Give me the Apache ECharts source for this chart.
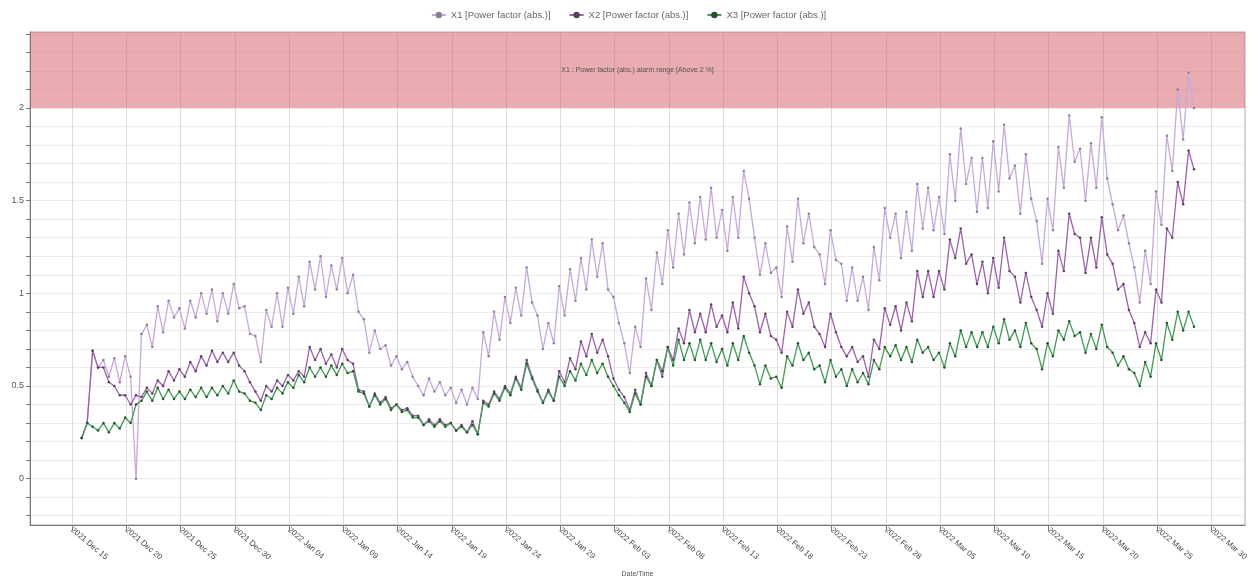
<!DOCTYPE html>
<html>
<head>
<meta charset="utf-8">
<script src="https://cdn.jsdelivr.net/npm/echarts@6/dist/echarts.min.js"></script>
<style>
  html, body { margin: 0; padding: 0; background: #fff; }
  #chart { width: 1257px; height: 583px; }
</style>
</head>
<body>
<div id="chart"></div>
<script>
// time is counted in days from 2021-12-15 00:00
const startDate = Date.UTC(2021, 11, 15)
const months = ['Jan', 'Feb', 'Mar', 'Apr', 'May', 'Jun', 'Jul', 'Aug', 'Sep', 'Oct', 'Nov', 'Dec']

// samples: daily peak / next-morning low, first one at day 0.9, one every half day
const sampleStart = 0.9
const sampleStep = 0.5

const xTickDays = [0, 5, 10, 15, 20, 25, 30, 35, 40, 45, 50, 55, 60, 65, 70, 75, 80, 85, 90, 95, 100, 105]
const yTicks = [-0.2, -0.1, 0, 0.1, 0.2, 0.3, 0.4, 0.5, 0.6, 0.7, 0.8, 0.9, 1, 1.1, 1.2, 1.3, 1.4, 1.5, 1.6, 1.7, 1.8, 1.9, 2, 2.1, 2.2, 2.3, 2.4]
const yLabels = [0, 0.5, 1, 1.5, 2]

const seriesNames = ['X1 [Power factor (abs.)]', 'X2 [Power factor (abs.)]', 'X3 [Power factor (abs.)]']
const alarmText = 'X1 : Power factor (abs.) alarm range [Above 2 %]'
const alarmLimit = 2

const x1 = [
  0.22, 0.30, 0.69, 0.60, 0.64, 0.55, 0.65, 0.52, 0.66, 0.55,
  0.00, 0.78, 0.83, 0.71, 0.93, 0.79, 0.96, 0.87, 0.92, 0.81,
  0.96, 0.87, 1.00, 0.89, 1.02, 0.85, 1.00, 0.89, 1.05, 0.92,
  0.93, 0.78, 0.77, 0.63, 0.91, 0.82, 1.00, 0.82, 1.03, 0.89,
  1.09, 0.93, 1.17, 1.02, 1.20, 0.98, 1.15, 1.02, 1.19, 1.00,
  1.10, 0.90, 0.86, 0.68, 0.80, 0.70, 0.72, 0.61, 0.66, 0.59,
  0.63, 0.55, 0.50, 0.45, 0.54, 0.47, 0.52, 0.45, 0.49, 0.41,
  0.48, 0.40, 0.49, 0.43, 0.79, 0.66, 0.90, 0.75, 0.98, 0.84,
  1.03, 0.88, 1.14, 0.95, 0.88, 0.70, 0.84, 0.73, 1.04, 0.88,
  1.13, 0.96, 1.19, 1.02, 1.29, 1.09, 1.27, 1.02, 0.98, 0.84,
  0.73, 0.57, 0.82, 0.71, 1.08, 0.91, 1.22, 1.05, 1.34, 1.14,
  1.43, 1.21, 1.49, 1.27, 1.52, 1.29, 1.57, 1.30, 1.45, 1.23,
  1.52, 1.30, 1.66, 1.51, 1.30, 1.10, 1.27, 1.11, 1.14, 0.98,
  1.36, 1.17, 1.51, 1.27, 1.43, 1.25, 1.21, 1.05, 1.34, 1.18,
  1.16, 0.96, 1.14, 0.96, 1.09, 0.91, 1.25, 1.07, 1.46, 1.30,
  1.43, 1.19, 1.44, 1.23, 1.59, 1.35, 1.57, 1.34, 1.52, 1.32,
  1.75, 1.50, 1.89, 1.59, 1.73, 1.44, 1.73, 1.46, 1.82, 1.55,
  1.91, 1.62, 1.69, 1.43, 1.75, 1.51, 1.39, 1.16, 1.51, 1.34,
  1.79, 1.57, 1.96, 1.71, 1.78, 1.50, 1.81, 1.57, 1.95, 1.62,
  1.48, 1.34, 1.42, 1.27, 1.14, 0.95, 1.23, 1.05, 1.55, 1.37,
  1.85, 1.66, 2.10, 1.83, 2.19, 2.00
]

const x2 = [
  0.22, 0.30, 0.69, 0.60, 0.60, 0.52, 0.50, 0.45, 0.45, 0.40,
  0.45, 0.44, 0.49, 0.46, 0.53, 0.50, 0.58, 0.53, 0.59, 0.55,
  0.63, 0.58, 0.66, 0.61, 0.69, 0.63, 0.68, 0.63, 0.68, 0.61,
  0.58, 0.52, 0.47, 0.42, 0.50, 0.47, 0.53, 0.50, 0.56, 0.53,
  0.58, 0.55, 0.71, 0.64, 0.70, 0.62, 0.67, 0.60, 0.70, 0.64,
  0.62, 0.48, 0.47, 0.39, 0.46, 0.41, 0.44, 0.38, 0.40, 0.37,
  0.38, 0.34, 0.34, 0.29, 0.32, 0.29, 0.32, 0.29, 0.30, 0.26,
  0.29, 0.25, 0.31, 0.24, 0.42, 0.40, 0.47, 0.43, 0.50, 0.46,
  0.55, 0.49, 0.64, 0.55, 0.48, 0.41, 0.48, 0.42, 0.58, 0.52,
  0.65, 0.59, 0.74, 0.66, 0.78, 0.68, 0.75, 0.66, 0.54, 0.48,
  0.44, 0.37, 0.48, 0.40, 0.57, 0.50, 0.64, 0.55, 0.71, 0.64,
  0.81, 0.73, 0.91, 0.79, 0.89, 0.79, 0.94, 0.82, 0.88, 0.79,
  0.95, 0.81, 1.09, 1.00, 0.93, 0.79, 0.89, 0.77, 0.75, 0.68,
  0.90, 0.82, 1.02, 0.89, 0.95, 0.82, 0.78, 0.71, 0.89, 0.79,
  0.71, 0.66, 0.71, 0.63, 0.66, 0.55, 0.75, 0.70, 0.92, 0.83,
  0.93, 0.80, 0.95, 0.85, 1.12, 0.98, 1.12, 0.98, 1.12, 1.02,
  1.29, 1.19, 1.35, 1.16, 1.21, 1.05, 1.17, 1.00, 1.19, 1.03,
  1.30, 1.12, 1.09, 0.95, 1.11, 0.98, 0.91, 0.82, 1.00, 0.89,
  1.23, 1.12, 1.43, 1.32, 1.30, 1.11, 1.30, 1.14, 1.41, 1.21,
  1.16, 1.02, 1.05, 0.91, 0.84, 0.71, 0.79, 0.73, 1.02, 0.95,
  1.35, 1.30, 1.60, 1.48, 1.77, 1.67
]

const x3 = [
  0.22, 0.30, 0.28, 0.26, 0.30, 0.25, 0.30, 0.27, 0.33, 0.30,
  0.40, 0.42, 0.47, 0.42, 0.49, 0.43, 0.48, 0.43, 0.47, 0.43,
  0.48, 0.44, 0.49, 0.44, 0.49, 0.45, 0.50, 0.46, 0.53, 0.47,
  0.46, 0.42, 0.41, 0.37, 0.45, 0.43, 0.49, 0.46, 0.52, 0.49,
  0.56, 0.52, 0.60, 0.55, 0.60, 0.55, 0.61, 0.56, 0.62, 0.57,
  0.58, 0.47, 0.46, 0.39, 0.45, 0.40, 0.43, 0.37, 0.40, 0.36,
  0.37, 0.33, 0.33, 0.29, 0.31, 0.28, 0.31, 0.28, 0.30, 0.26,
  0.28, 0.25, 0.29, 0.24, 0.41, 0.39, 0.46, 0.42, 0.49, 0.45,
  0.54, 0.48, 0.62, 0.54, 0.47, 0.41, 0.47, 0.42, 0.55, 0.50,
  0.58, 0.53, 0.62, 0.56, 0.64, 0.57, 0.62, 0.55, 0.50, 0.45,
  0.41, 0.36, 0.46, 0.40, 0.55, 0.50, 0.64, 0.58, 0.71, 0.61,
  0.75, 0.64, 0.73, 0.64, 0.75, 0.64, 0.73, 0.63, 0.70, 0.61,
  0.73, 0.64, 0.77, 0.68, 0.61, 0.51, 0.61, 0.54, 0.55, 0.49,
  0.66, 0.61, 0.73, 0.64, 0.68, 0.59, 0.61, 0.52, 0.64, 0.55,
  0.59, 0.50, 0.59, 0.52, 0.57, 0.51, 0.64, 0.59, 0.71, 0.66,
  0.72, 0.64, 0.71, 0.63, 0.75, 0.68, 0.71, 0.64, 0.68, 0.60,
  0.73, 0.66, 0.80, 0.71, 0.79, 0.71, 0.79, 0.71, 0.82, 0.73,
  0.86, 0.75, 0.80, 0.71, 0.84, 0.73, 0.70, 0.59, 0.73, 0.66,
  0.80, 0.75, 0.85, 0.77, 0.79, 0.68, 0.78, 0.70, 0.83, 0.71,
  0.68, 0.61, 0.66, 0.59, 0.57, 0.50, 0.63, 0.55, 0.73, 0.64,
  0.84, 0.75, 0.90, 0.80, 0.90, 0.82
]

function toPoints(values) {
  return values.map(function(v, i) { return [sampleStart + i * sampleStep, v] })
}

function dayLabel(d) {
  const dt = new Date(startDate + Math.round(d) * 86400000)
  const dd = dt.getUTCDate()
  return dt.getUTCFullYear() + ' ' + months[dt.getUTCMonth()] + ' ' + (dd < 10 ? '0' + dd : dd)
}

function lineSeries(name, values, lineColor, dotColor, extra) {
  return Object.assign({
    name: name,
    type: 'line',
    data: toPoints(values),
    symbol: 'circle',
    symbolSize: 2.5,
    showSymbol: true,
    lineStyle: { color: lineColor, width: 1.3 },
    itemStyle: { color: dotColor },
    emphasis: { disabled: true }
  }, extra || {})
}

const chart = echarts.init(document.getElementById('chart'))
chart.setOption({
  animation: false,
  backgroundColor: '#fff',
  legend: {
    top: 5,
    left: 'center',
    itemWidth: 14,
    itemHeight: 8,
    itemGap: 18,
    textStyle: { color: '#666', fontSize: 9.5, fontFamily: 'Liberation Sans' },
    data: seriesNames
  },
  grid: {
    left: 30,
    right: 12,
    top: 32,
    bottom: 52,
    show: true,
    borderColor: '#aaa',
    borderWidth: 1
  },
  xAxis: {
    type: 'value',
    min: -3.87,
    max: 108.1,
    name: 'Date/Time',
    nameLocation: 'middle',
    nameGap: 46,
    nameTextStyle: { color: '#555', fontSize: 7, fontFamily: 'Liberation Sans' },
    axisLine: { onZero: false, lineStyle: { color: '#777' } },
    axisTick: { show: true, length: 5, customValues: xTickDays, lineStyle: { color: '#777' } },
    axisLabel: {
      customValues: xTickDays,
      rotate: -40,
      fontSize: 8,
      color: '#444',
      margin: 4,
      fontFamily: 'Liberation Sans',
      formatter: function(v) { return dayLabel(v) }
    },
    splitLine: { show: true, lineStyle: { color: '#dcdcdc' } }
  },
  yAxis: {
    type: 'value',
    min: -0.25,
    max: 2.41,
    axisLine: { show: true, onZero: false, lineStyle: { color: '#777' } },
    axisTick: { show: true, length: 4, customValues: yTicks, lineStyle: { color: '#777' } },
    axisLabel: { customValues: yLabels, fontSize: 9, color: '#555', margin: 6, fontFamily: 'Liberation Sans' },
    splitLine: { show: true, lineStyle: { color: '#ececec' } }
  },
  series: [
    lineSeries(seriesNames[0], x1, '#c7a9dc', '#8f7d9c', {
      z: 3,
      markArea: {
        silent: true,
        itemStyle: { color: 'rgba(210,95,105,0.52)' },
        label: { show: true, position: 'inside', color: '#555', fontSize: 7, fontFamily: 'Liberation Sans' },
        data: [[{ yAxis: alarmLimit, name: alarmText }, { yAxis: 2.41 }]]
      }
    }),
    lineSeries(seriesNames[1], x2, '#9c62aa', '#5e3f66', { z: 4 }),
    lineSeries(seriesNames[2], x3, '#3f9a52', '#24552f', { z: 5 })
  ]
})
</script>
</body>
</html>
